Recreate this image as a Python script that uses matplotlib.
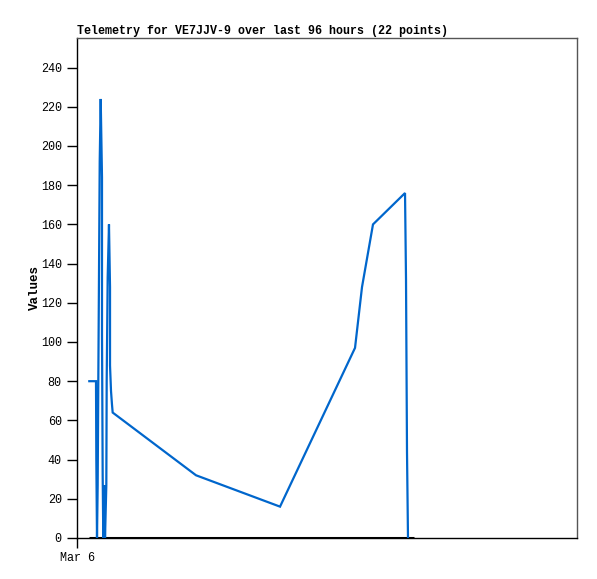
import matplotlib
matplotlib.use("Agg")
import matplotlib.pyplot as plt

# hours since Mar 6 00:00 (x range 0..96)
hours = [2.36, 3.65, 3.71, 3.84, 3.97, 4.09, 4.22, 4.36, 4.55, 4.80, 4.80, 4.93,
         5.05, 5.24, 5.38, 5.63, 5.70, 5.89, 6.14, 6.34, 6.34, 6.53, 6.72, 6.85,
         22.85, 38.98, 53.38, 54.72, 56.83, 62.98, 63.17, 63.36, 63.55]
values = [80, 80, 40, 0, 27, 80, 133, 192, 224, 184, 104, 32,
          0, 27, 0, 27, 80, 133, 160, 128, 88, 75, 68, 64,
          32, 16, 97, 128, 160, 176, 132, 44, 0]

zero_hours = [2.30, 64.70]
zero_values = [0, 0]

y_ticks = list(range(0, 241, 20))
x_tick_pos = [0]
x_tick_labels = ["Mar 6"]
title = "Telemetry for VE7JJV-9 over last 96 hours (22 points)"

W, H = 597, 579
fig = plt.figure(figsize=(W / 100, H / 100), dpi=100)
ax = fig.add_axes([77 / W, (H - 538) / H, 500 / W, 500 / H])

mono = ["Liberation Mono", "DejaVu Sans Mono"]

ax.plot(zero_hours, zero_values, color="black", lw=2.2, solid_capstyle="butt", zorder=2)
ax.plot(hours, values, color="#0066CC", lw=1.6, zorder=3, solid_joinstyle="miter")

ax.set_xlim(0, 96)
ax.set_ylim(0, 255.1)
ax.set_yticks(y_ticks)
ax.set_xticks(x_tick_pos)
ax.set_xticklabels(x_tick_labels)

for lab in ax.get_xticklabels() + ax.get_yticklabels():
    lab.set_fontfamily(mono)
    lab.set_fontsize(8.5)

ax.tick_params(axis="both", direction="out", length=7, width=1, color="black", pad=3)
ax.tick_params(axis="y", pad=4)

for side in ["top", "right"]:
    ax.spines[side].set_color("#555555")
    ax.spines[side].set_linewidth(1)
for side in ["left", "bottom"]:
    ax.spines[side].set_color("black")
    ax.spines[side].set_linewidth(1)

ax.set_ylabel("Values", family=mono, fontsize=9, fontweight="bold", labelpad=0)
ax.set_title(title, loc="left", family=mono, fontsize=8.4, fontweight="bold", pad=3)

fig.savefig("out.png", dpi=100, facecolor="white")
